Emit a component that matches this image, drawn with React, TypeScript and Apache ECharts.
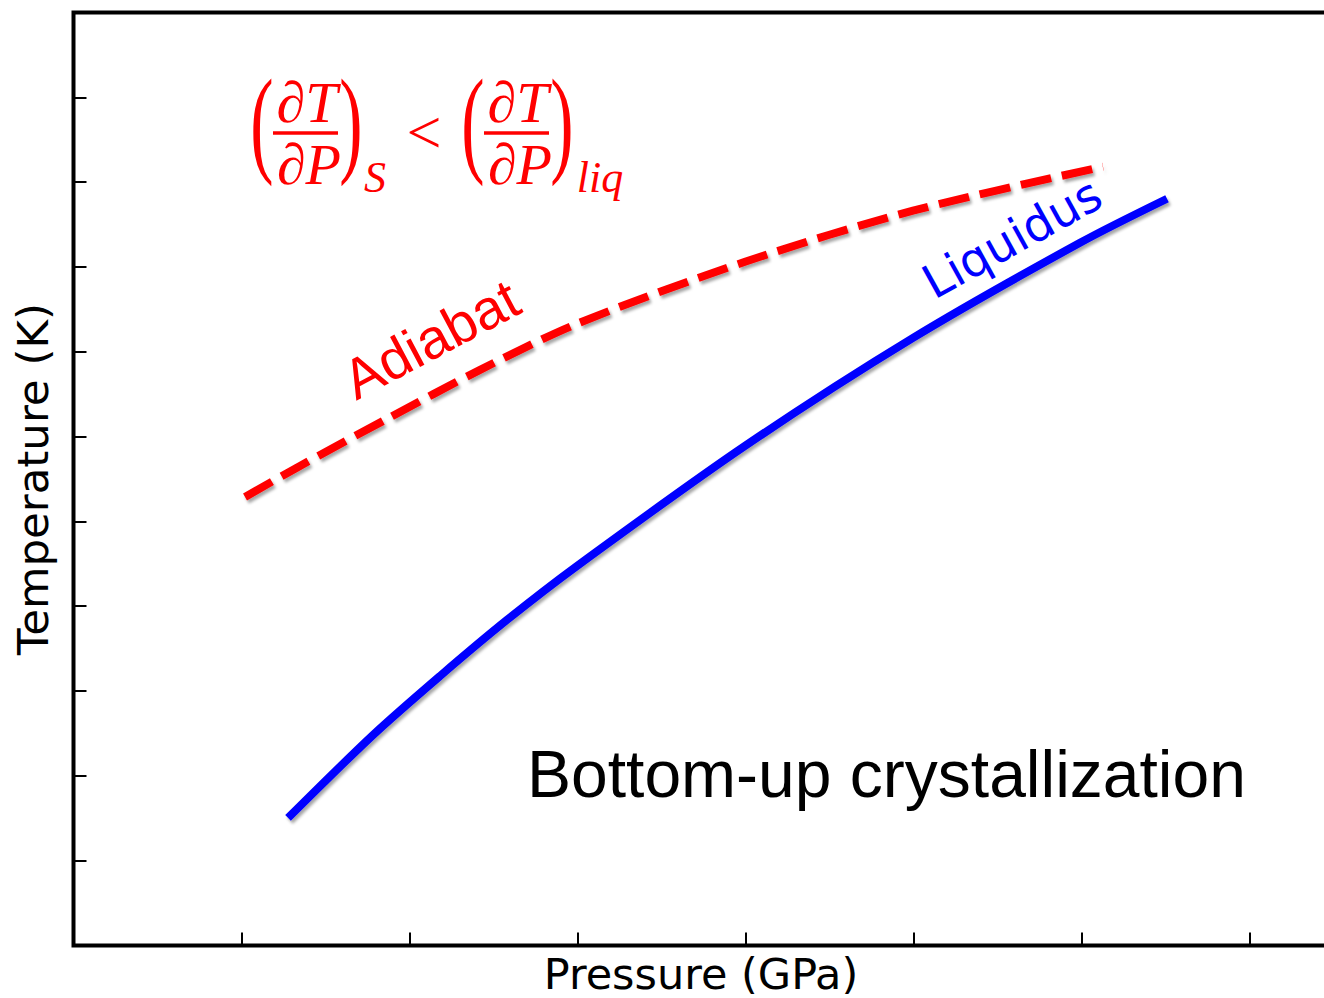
import React, { useEffect, useRef } from "react";
import * as echarts from "echarts";

// Liquidus curve: pressure (GPa, arbitrary units) vs temperature (K, arbitrary units)
const liquidusP = [1.277, 1.783, 2.182, 2.58, 2.997, 3.997, 4.997, 5.991, 6.509];
const liquidusT = [1.504, 2.482, 3.178, 3.838, 4.475, 5.89, 7.164, 8.285, 8.804];

// Adiabat curve
const adiabatP = [1.021, 1.348, 1.866, 2.42, 2.997, 3.997, 4.997, 6.128];
const adiabatT = [5.289, 5.654, 6.209, 6.787, 7.33, 8.061, 8.663, 9.182];

const xTitle = "Pressure (GPa)";
const yTitle = "Temperature (K)";
const liquidusLabel = "Liquidus";
const adiabatLabel = "Adiabat";
const regimeLabel = "Bottom-up crystallization";

const RED = "#ff0000";
const BLUE = "#0000ff";
const MATH = '"Liberation Serif", "DejaVu Serif", serif';

const zip = (xs: number[], ys: number[]) => xs.map((x, i) => [x, ys[i]]);

const lineShadow = {
  shadowColor: "rgba(0,0,0,0.35)",
  shadowBlur: 3,
  shadowOffsetX: 2,
  shadowOffsetY: 3,
};

function txt(
  text: string,
  x: number,
  y: number,
  size: number,
  family: string,
  fill: string,
  extra: Record<string, unknown> = {},
  align = "center",
  fontStyle = "normal"
) {
  return {
    type: "text",
    x,
    y,
    z: 100,
    ...extra,
    style: {
      text,
      fontSize: size,
      fontFamily: family,
      fontStyle,
      lineHeight: size,
      fill,
      textAlign: align,
      textVerticalAlign: "middle",
    },
  };
}

// One partial derivative (dT/dP) in parentheses, with a subscript
function derivative(left: number, sub: string, subX: number) {
  return [
    txt("(", left + 12, 121, 70, MATH, RED, { scaleY: 1.7 }),
    txt("\u2202T", left + 57, 102, 58, MATH, RED, {}, "center", "italic"),
    {
      type: "line",
      z: 100,
      shape: { x1: left + 23, y1: 133, x2: left + 88, y2: 133 },
      style: { stroke: RED, lineWidth: 3.5 },
    },
    txt("\u2202P", left + 59, 164, 58, MATH, RED, {}, "center", "italic"),
    txt(")", left + 101, 121, 70, MATH, RED, { scaleY: 1.7 }),
    txt(sub, subX, 177, 44, MATH, RED, {}, "center", "italic"),
  ];
}

export default function App() {
  const ref = useRef<HTMLDivElement>(null);

  useEffect(() => {
    const chart = echarts.init(ref.current!, null, { renderer: "svg" });

    const tick = {
      show: true,
      inside: true,
      length: 13,
      lineStyle: { color: "#000", width: 2 },
    };

    const SANS = '"Liberation Sans", Arial, sans-serif';
    const DEJAVU = '"DejaVu Sans", sans-serif';

    chart.setOption({
      animation: false,
      grid: {
        left: 73.5,
        top: 12.5,
        width: 1344,
        height: 933,
        outerBoundsMode: "none",
        containLabel: false,
        show: true,
        borderColor: "#000",
        borderWidth: 4,
        backgroundColor: "transparent",
      },
      xAxis: {
        type: "value",
        min: 0,
        max: 8,
        interval: 1,
        axisLine: { show: false },
        axisTick: tick,
        axisLabel: { show: false },
        splitLine: { show: false },
      },
      yAxis: {
        type: "value",
        min: 0,
        max: 11,
        interval: 1,
        axisLine: { show: false },
        axisTick: tick,
        axisLabel: { show: false },
        splitLine: { show: false },
      },
      series: [
        {
          type: "line",
          name: liquidusLabel,
          data: zip(liquidusP, liquidusT),
          smooth: 0.3,
          symbol: "none",
          lineStyle: { color: BLUE, width: 8, cap: "butt", ...lineShadow },
        },
        {
          type: "line",
          name: adiabatLabel,
          data: zip(adiabatP, adiabatT),
          smooth: 0.3,
          symbol: "none",
          lineStyle: {
            color: RED,
            width: 8,
            type: [31, 11],
            cap: "butt",
            ...lineShadow,
          },
        },
      ],
      graphic: [
        ...derivative(250, "S", 375),
        txt("<", 424, 132, 62, MATH, RED),
        ...derivative(461, "liq", 600),
        txt(adiabatLabel, 431, 339, 56, SANS, RED, {
          rotation: (28 * Math.PI) / 180,
        }),
        txt(liquidusLabel, 1012, 238, 47, DEJAVU, BLUE, {
          rotation: (29 * Math.PI) / 180,
        }),
        txt(regimeLabel, 527, 774, 66, SANS, "#000", {}, "left"),
        txt(xTitle, 701, 974, 43, DEJAVU, "#000"),
        txt(yTitle, 33, 479, 43.5, DEJAVU, "#000", {
          rotation: Math.PI / 2,
        }),
      ],
    });

    return () => chart.dispose();
  }, []);

  return (
    <div
      ref={ref}
      style={{
        position: "absolute",
        left: 0,
        top: 0,
        width: 1324,
        height: 998,
        background: "#fff",
      }}
    />
  );
}
